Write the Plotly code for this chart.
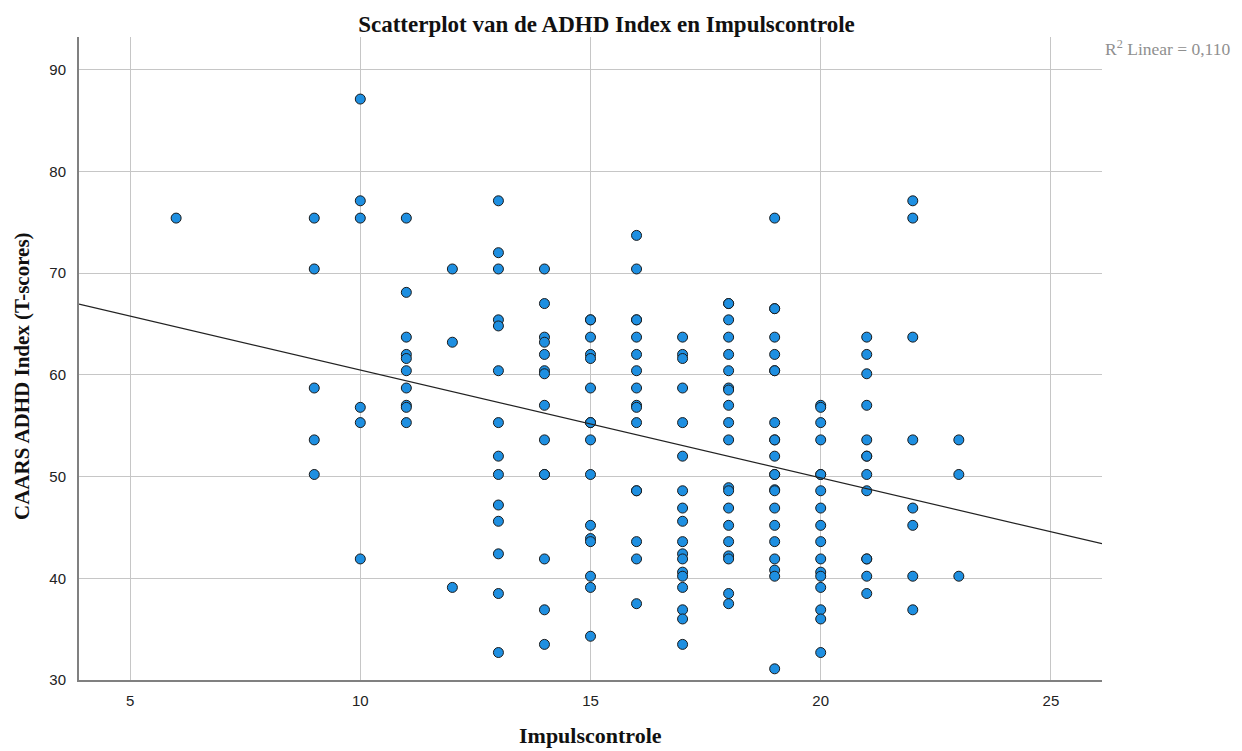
import plotly.graph_objects as go

# CAARS ADHD Index (T-scores) values observed at each Impulscontrole score
impuls_scores = [6, 9, 10, 11, 12, 13, 14, 15, 16, 17, 18, 19, 20, 21, 22, 23]
adhd_at_6 = [75.4]
adhd_at_9 = [75.4, 70.4, 58.7, 53.6, 50.2]
adhd_at_10 = [87.1, 77.1, 75.4, 56.8, 55.3, 41.9]
adhd_at_11 = [75.4, 68.1, 63.7, 62.0, 61.6, 60.4, 58.7, 57.0, 56.8, 55.3]
adhd_at_12 = [70.4, 63.2, 39.1]
adhd_at_13 = [77.1, 72.0, 70.4, 65.4, 64.8, 60.4, 55.3, 52.0, 50.2, 47.2, 45.6, 42.4, 38.5, 32.7]
adhd_at_14 = [70.4, 67.0, 63.7, 63.2, 62.0, 60.4, 60.1, 57.0, 53.6, 50.2, 50.2, 41.9, 36.9, 33.5]
adhd_at_15 = [65.4, 65.4, 63.7, 62.0, 61.6, 58.7, 55.3, 55.3, 53.6, 50.2, 45.2, 43.9, 43.6, 40.2, 39.1, 34.3]
adhd_at_16 = [73.7, 70.4, 65.4, 65.4, 63.7, 62.0, 60.4, 58.7, 57.0, 56.8, 55.3, 48.6, 48.6, 43.6, 41.9, 37.5]
adhd_at_17 = [63.7, 62.0, 61.6, 58.7, 55.3, 52.0, 48.6, 46.9, 45.6, 43.6, 42.4, 41.9, 40.6, 40.2, 39.1, 36.9, 36.0, 33.5]
adhd_at_18 = [67.0, 67.0, 65.4, 63.7, 62.0, 60.4, 58.7, 58.5, 57.0, 55.3, 53.6, 48.9, 48.6, 46.9, 45.2, 43.6, 42.2, 41.9, 38.5, 37.5]
adhd_at_19 = [75.4, 66.5, 66.5, 63.7, 62.0, 60.4, 60.4, 55.3, 53.6, 53.6, 52.0, 50.2, 50.2, 48.7, 48.6, 46.9, 45.2, 43.6, 41.9, 40.8, 40.2, 31.1]
adhd_at_20 = [57.0, 56.8, 55.3, 53.6, 50.2, 50.2, 48.6, 46.9, 45.2, 43.6, 41.9, 40.6, 40.2, 39.1, 36.9, 36.0, 32.7]
adhd_at_21 = [63.7, 62.0, 60.1, 57.0, 53.6, 52.0, 52.0, 50.2, 48.6, 41.9, 41.9, 40.2, 38.5]
adhd_at_22 = [77.1, 75.4, 63.7, 53.6, 46.9, 45.2, 40.2, 36.9]
adhd_at_23 = [53.6, 50.2, 40.2]

columns = [adhd_at_6, adhd_at_9, adhd_at_10, adhd_at_11, adhd_at_12, adhd_at_13, adhd_at_14,
           adhd_at_15, adhd_at_16, adhd_at_17, adhd_at_18, adhd_at_19, adhd_at_20, adhd_at_21,
           adhd_at_22, adhd_at_23]

# Linear fit (R^2 Linear = 0,110)
fit_intercept = 71.07
fit_slope = -1.06
r2_label = "R<sup>2</sup> Linear = 0,110"

x_range = [3.89, 26.11]
y_range = [30, 93.2]
x_ticks = [5, 10, 15, 20, 25]
y_ticks = [30, 40, 50, 60, 70, 80, 90]

xs, ys = [], []
for score, vals in zip(impuls_scores, columns):
    for v in vals:
        xs.append(score)
        ys.append(v)

fig = go.Figure()
fig.add_trace(go.Scatter(
    x=xs, y=ys, mode="markers",
    marker=dict(size=10, color="#1E8FE1", line=dict(color="#1a1a1a", width=1)),
    showlegend=False, hoverinfo="x+y",
))
fit_x = [x_range[0], x_range[1]]
fit_y = [fit_intercept + fit_slope * v for v in fit_x]
fig.add_trace(go.Scatter(
    x=fit_x, y=fit_y, mode="lines",
    line=dict(color="#222222", width=1.2),
    showlegend=False, hoverinfo="skip",
))

serif = "Liberation Serif, Times New Roman, serif"
sans = "Liberation Sans, Arial, sans-serif"

W, H = 1234, 743  # page body has an 8px margin inside the 1242x751 window

fig.update_layout(
    width=W, height=H,
    margin=dict(l=71, r=140, t=29, b=71),
    paper_bgcolor="white", plot_bgcolor="white",
    title=dict(text="<b>Scatterplot van de ADHD Index en Impulscontrole</b>",
               font=dict(family=serif, size=23, color="#111111"),
               x=598.5 / W, xanchor="center", xref="container",
               y=1 - 16 / H, yanchor="middle", yref="container"),
    xaxis=dict(range=x_range, tickvals=x_ticks, showgrid=True, gridcolor="#c6c6c6", gridwidth=1.2,
               showline=True, linecolor="#808080", linewidth=2, ticks="", zeroline=False,
               tickfont=dict(family=sans, size=15, color="#222222"), ticklabelstandoff=6),
    yaxis=dict(range=y_range, tickvals=y_ticks, showgrid=True, gridcolor="#c6c6c6", gridwidth=1.2,
               showline=True, linecolor="#808080", linewidth=2, ticks="", zeroline=False,
               tickfont=dict(family=sans, size=15, color="#222222"), ticklabelstandoff=8),
    annotations=[
        dict(text="<b>Impulscontrole</b>", xref="paper", yref="paper",
             x=0.5, y=(680 - 736) / 643, xanchor="center", yanchor="middle", showarrow=False,
             font=dict(family=serif, size=22, color="#111111")),
        dict(text="<b>CAARS ADHD Index (T-scores)</b>", xref="paper", yref="paper",
             x=(22 - 79) / 1023, y=(680 - 376) / 643, xanchor="center", yanchor="middle",
             textangle=-90, showarrow=False,
             font=dict(family=serif, size=21, color="#111111")),
        dict(text=r2_label, xref="paper", yref="paper",
             x=(1103 - 79) / 1023, y=(680 - 48) / 643, xanchor="left", yanchor="middle",
             showarrow=False, font=dict(family=serif, size=17.5, color="#8f8f8f")),
    ],
)

fig.write_html("out.html")
